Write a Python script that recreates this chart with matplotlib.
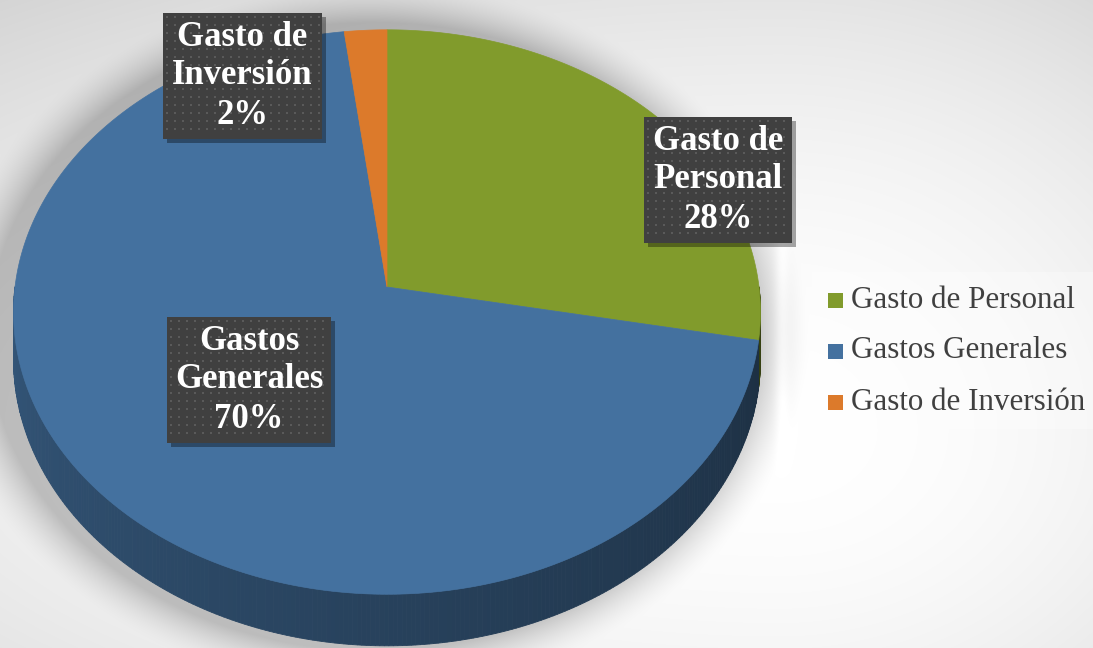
import numpy as np
import matplotlib.pyplot as plt
from matplotlib.patches import Polygon, Rectangle

categories = ["Gasto de Personal", "Gastos Generales", "Gasto de Inversión"]
values = [28, 70, 2]
label_lines = [["Gasto de", "Personal"], ["Gastos", "Generales"], ["Gasto de", "Inversión"]]
colors = ["#819B2C", "#44719F", "#DC7A2B"]

W, H = 1093, 648
fig = plt.figure(figsize=(W / 100, H / 100), dpi=100)
ax = fig.add_axes([0, 0, 1, 1])
ax.set_xlim(0, W)
ax.set_ylim(H, 0)
ax.axis('off')

# ---- background: radial gradient + soft shadow ----
yy, xx = np.mgrid[0:H, 0:W].astype(float)
gx, gy = 780.0, 430.0
rxm = np.where(xx < gx, 1200.0, 600.0)
rym = np.where(yy < gy, 520.0, 450.0)
d2 = ((xx - gx) / rxm) ** 2 + ((yy - gy) / rym) ** 2
bg = np.clip(1.0 - 0.15 * d2, 0.80, 1.0)
# light vertical band right of the pie
band = np.exp(-((xx - 781) / 7.0) ** 2) * np.clip((480 - yy) / 80.0, 0, 1) \
    * np.clip((yy - 150) / 120.0, 0, 1)
bg = bg + 0.05 * band
# pie shadow
scx, scy, srx, sry = 374, 336, 386, 314
r = np.sqrt(((xx - scx) / srx) ** 2 + ((yy - scy) / sry) ** 2)
sh = np.clip(1 - (r - 1) / 0.13, 0, 1) ** 1.6 * 0.20
bg = np.clip(bg - sh, 0, 1)
ax.imshow(np.dstack([bg] * 3), extent=(0, W, H, 0), zorder=0, interpolation='bilinear')

# ---- pie geometry (perspective disk) ----
cx, cy, A, B, c, depth = 387, 287, 372, 280, 0.0887, 47


def proj(th, drop=0.0):
    x, z = np.cos(th), np.sin(th)
    s = 1.0 / (1.0 + c * z)
    return cx + A * x * s, cy - B * z * s + drop * s


def darken(col, f):
    from matplotlib.colors import to_rgb
    r_, g_, b_ = to_rgb(col)
    return (r_ * f, g_ * f, b_ * f)


total = sum(values)
start = np.pi / 2
wedges = []
for v in values:
    end = start - 2 * np.pi * v / total
    wedges.append((start, end))
    start = end

# side walls
for (t0, t1), col in zip(wedges, colors):
    th = np.linspace(t0, t1, 400)
    for a, b in zip(th[:-1], th[1:]):
        m = 0.5 * (a + b)
        if np.sin(m) > 0:
            continue
        ang = np.mod(m, 2 * np.pi)  # pi..2pi
        f = 0.76 - 0.36 * (ang - np.pi) / np.pi
        xa, ya = proj(a)
        xb, yb = proj(b)
        xa2, ya2 = proj(a, depth)
        xb2, yb2 = proj(b, depth)
        ax.add_patch(Polygon([(xa, ya), (xb, yb), (xb2, yb2), (xa2, ya2)],
                             closed=True, facecolor=darken(col, f),
                             edgecolor=darken(col, f), lw=0.6, zorder=2))

# top faces
for (t0, t1), col in zip(wedges, colors):
    th = np.linspace(t0, t1, 300)
    px, py = proj(th)
    pts = [(cx, cy)] + list(zip(px, py))
    ax.add_patch(Polygon(pts, closed=True, facecolor=col, edgecolor=col,
                         lw=0.5, zorder=3))

# ---- data labels ----
boxes = [(644, 117, 148, 126), (167, 317, 164, 126), (163, 13, 159, 126)]
font = dict(family=['Liberation Serif', 'DejaVu Serif'], weight='bold', color='white',
            fontsize=25, ha='center', va='center', zorder=7)
for (bx, by, bw, bh), lines, v in zip(boxes, label_lines, values):
    ax.add_patch(Rectangle((bx + 4, by + 4), bw, bh, facecolor='black', alpha=0.35,
                           edgecolor='none', zorder=5))
    ax.add_patch(Rectangle((bx, by), bw, bh, facecolor='#404040', edgecolor='none', zorder=6))
    dx = np.arange(bx + 4, bx + bw - 2, 8)
    dy = np.arange(by + 4, by + bh - 2, 8)
    DX, DY = np.meshgrid(dx, dy)
    ax.scatter(DX.ravel(), DY.ravel(), s=1.2, color='#5a5a5a', marker='s',
               linewidths=0, zorder=6.5)
    mx, my = bx + bw / 2, by + bh / 2
    texts = lines + [f"{v}%"]
    for i, t in enumerate(texts):
        ax.text(mx, my + (i - 1) * 39, t, **font)

# ---- legend ----
ax.add_patch(Rectangle((812, 272), 281, 157, facecolor='white', alpha=0.3,
                       edgecolor='none', zorder=4))
leg_y = [300, 351, 402]
for yv, name, col in zip(leg_y, categories, colors):
    ax.add_patch(Rectangle((828, yv - 7.5), 15, 15, facecolor=col, edgecolor='none', zorder=5))
    ax.text(851, yv, name, family=['Liberation Serif', 'DejaVu Serif'], fontsize=22.3,
            color='#404040', ha='left', va='center', zorder=5)

fig.savefig('out.png', dpi=100)
